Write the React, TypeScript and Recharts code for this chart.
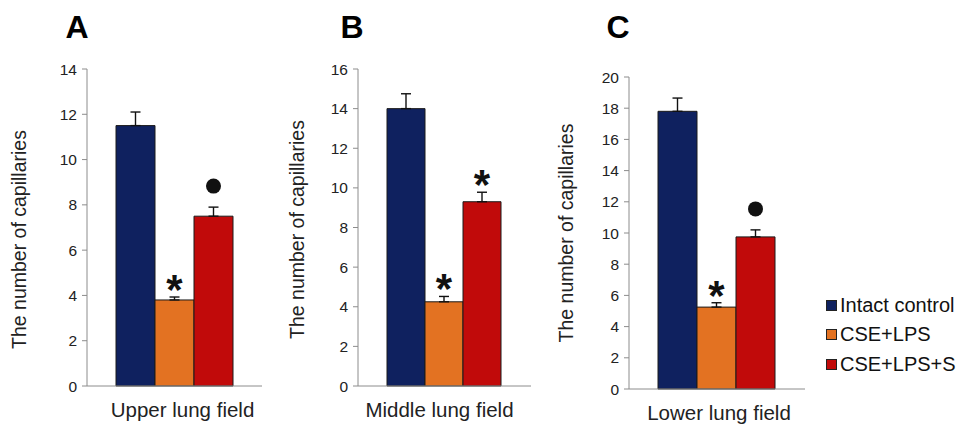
import { BarChart, Bar, XAxis, YAxis, ErrorBar, LabelList, Legend, Label } from "recharts";

// one panel per lung field
const groups = ["Upper lung field", "Middle lung field", "Lower lung field"];
const panelLetters = ["A", "B", "C"];

const intactMeans = [11.5, 14.0, 17.8];
const intactErrs = [0.6, 0.75, 0.85];
const cseMeans = [3.8, 4.25, 5.25];
const cseErrs = [0.13, 0.27, 0.28];
const cseSMeans = [7.5, 9.3, 9.75];
const cseSErrs = [0.4, 0.48, 0.45];

const cseMarks = ["*", "*", "*"];
const cseSMarks = ["●", "*", "●"];

const yTicks = [
  [0, 2, 4, 6, 8, 10, 12, 14],
  [0, 2, 4, 6, 8, 10, 12, 14, 16],
  [0, 2, 4, 6, 8, 10, 12, 14, 16, 18, 20],
];

const seriesNames = ["Intact control", "CSE+LPS", "CSE+LPS+S"];

const FONT = "'Liberation Sans', Arial, Helvetica, sans-serif";
const BLUE = "#0f215f";
const ORANGE = "#e37222";
const RED = "#c10a0a";
const AXIS = "#8c8c8c";

// layout of each panel on the page
const layout = [
  { left: 0, width: 290, top: 69, bottom: 6, right: 28, yWidth: 87, labelDx: 66, labelDy: 12, catDx: 8 },
  { left: 272, width: 288, top: 69, bottom: 6, right: 29, yWidth: 86, labelDx: 59, labelDy: 2, catDx: -5 },
  { left: 545, width: 415, top: 77, bottom: 3, right: 155, yWidth: 84, labelDx: 61, labelDy: 0, catDx: 2 },
];

const renderMark = (mean: number, err: number) => (p: any) => {
  const x = Number(p.x);
  const y = Number(p.y);
  const w = Number(p.width);
  const h = Number(p.height);
  const errTop = y - (err * h) / mean;
  const cx = x + w / 2;
  if (p.value === "●") {
    return <circle cx={cx} cy={errTop - 21} r={7.5} fill="#111" />;
  }
  return (
    <text x={cx} y={errTop + 7} textAnchor="middle" fontSize={42} fontWeight="bold" fontFamily={FONT} fill="#111">
      {p.value}
    </text>
  );
};

const renderYLabel = (dx: number, dy: number) => (p: any) => {
  const vb = p.viewBox || {};
  const x = vb.x + vb.width - dx;
  const y = vb.y + vb.height / 2 + dy;
  return (
    <text
      x={x}
      y={y}
      transform={`rotate(-90, ${x}, ${y})`}
      textAnchor="middle"
      dominantBaseline="middle"
      fontSize={19.5}
      fontFamily={FONT}
      fill="#222"
    >
      The number of capillaries
    </text>
  );
};

const renderLegend = (p: any) => {
  const items = [...(p.payload || [])].sort(
    (a: any, b: any) => seriesNames.indexOf(a.value) - seriesNames.indexOf(b.value)
  );
  return (
    <div style={{ fontFamily: FONT, fontSize: 20, color: "#111" }}>
      {items.map((item: any) => (
        <div key={item.value} style={{ display: "flex", alignItems: "center", height: 29.3 }}>
          <span
            style={{
              width: 9,
              height: 9,
              background: item.color,
              border: "1px solid #222",
              marginRight: 3,
            }}
          />
          <span>{item.value}</span>
        </div>
      ))}
    </div>
  );
};

function Panel({ i }: { i: number }) {
  const L = layout[i];
  const data = [
    {
      group: groups[i],
      intact: intactMeans[i],
      intactErr: [0, intactErrs[i]],
      cse: cseMeans[i],
      cseErr: [0, cseErrs[i]],
      cseMark: cseMarks[i],
      cseS: cseSMeans[i],
      cseSErr: [0, cseSErrs[i]],
      cseSMark: cseSMarks[i],
    },
  ];
  const ticks = yTicks[i];

  return (
    <div style={{ position: "absolute", left: L.left, top: 0 }}>
      <BarChart
        width={L.width}
        height={432}
        data={data}
        margin={{ top: L.top, right: L.right, bottom: L.bottom, left: 0 }}
        barGap={0}
        barCategoryGap={29}
      >
        <XAxis
          dataKey="group"
          height={40}
          axisLine={{ stroke: AXIS }}
          tickLine={false}
          tickSize={0}
          tickMargin={16}
          tick={{ fill: "#222", fontSize: 20.5, fontFamily: FONT, dx: L.catDx }}
        />
        <YAxis
          type="number"
          width={L.yWidth}
          domain={[0, ticks[ticks.length - 1]]}
          ticks={ticks}
          interval={0}
          axisLine={{ stroke: AXIS }}
          tickLine={{ stroke: AXIS }}
          tickSize={5}
          tickMargin={5}
          tick={{ fill: "#222", fontSize: 15.5, fontFamily: FONT }}
        >
          <Label content={renderYLabel(L.labelDx, L.labelDy)} />
        </YAxis>
        <Bar dataKey="intact" name={seriesNames[0]} fill={BLUE} stroke="#1a1a1a" strokeWidth={1} isAnimationActive={false}>
          <ErrorBar dataKey="intactErr" width={5} stroke="#111" strokeWidth={1.4} isAnimationActive={false} />
        </Bar>
        <Bar dataKey="cse" name={seriesNames[1]} fill={ORANGE} stroke="#1a1a1a" strokeWidth={1} isAnimationActive={false}>
          <ErrorBar dataKey="cseErr" width={5} stroke="#111" strokeWidth={1.4} isAnimationActive={false} />
          <LabelList dataKey="cseMark" content={renderMark(cseMeans[i], cseErrs[i])} />
        </Bar>
        <Bar dataKey="cseS" name={seriesNames[2]} fill={RED} stroke="#1a1a1a" strokeWidth={1} isAnimationActive={false}>
          <ErrorBar dataKey="cseSErr" width={5} stroke="#111" strokeWidth={1.4} isAnimationActive={false} />
          <LabelList dataKey="cseSMark" content={renderMark(cseSMeans[i], cseSErrs[i])} />
        </Bar>
        {i === 2 && (
          <Legend
            layout="vertical"
            align="center"
            verticalAlign="middle"
            content={renderLegend}
            wrapperStyle={{ left: 281, top: 291, width: 140 }}
          />
        )}
      </BarChart>
    </div>
  );
}

export default function App() {
  const letterX = [77, 352, 618];
  return (
    <div style={{ position: "absolute", left: 0, top: 0, width: 960, height: 432, background: "#fff" }}>
      {groups.map((g, i) => (
        <Panel key={g} i={i} />
      ))}
      <svg width={960} height={50} style={{ position: "absolute", left: 0, top: 0, pointerEvents: "none" }}>
        {panelLetters.map((t, i) => (
          <text key={t} x={letterX[i]} y={38} textAnchor="middle" fontSize={32} fontWeight="bold" fontFamily={FONT} fill="#000">
            {t}
          </text>
        ))}
      </svg>
    </div>
  );
}
